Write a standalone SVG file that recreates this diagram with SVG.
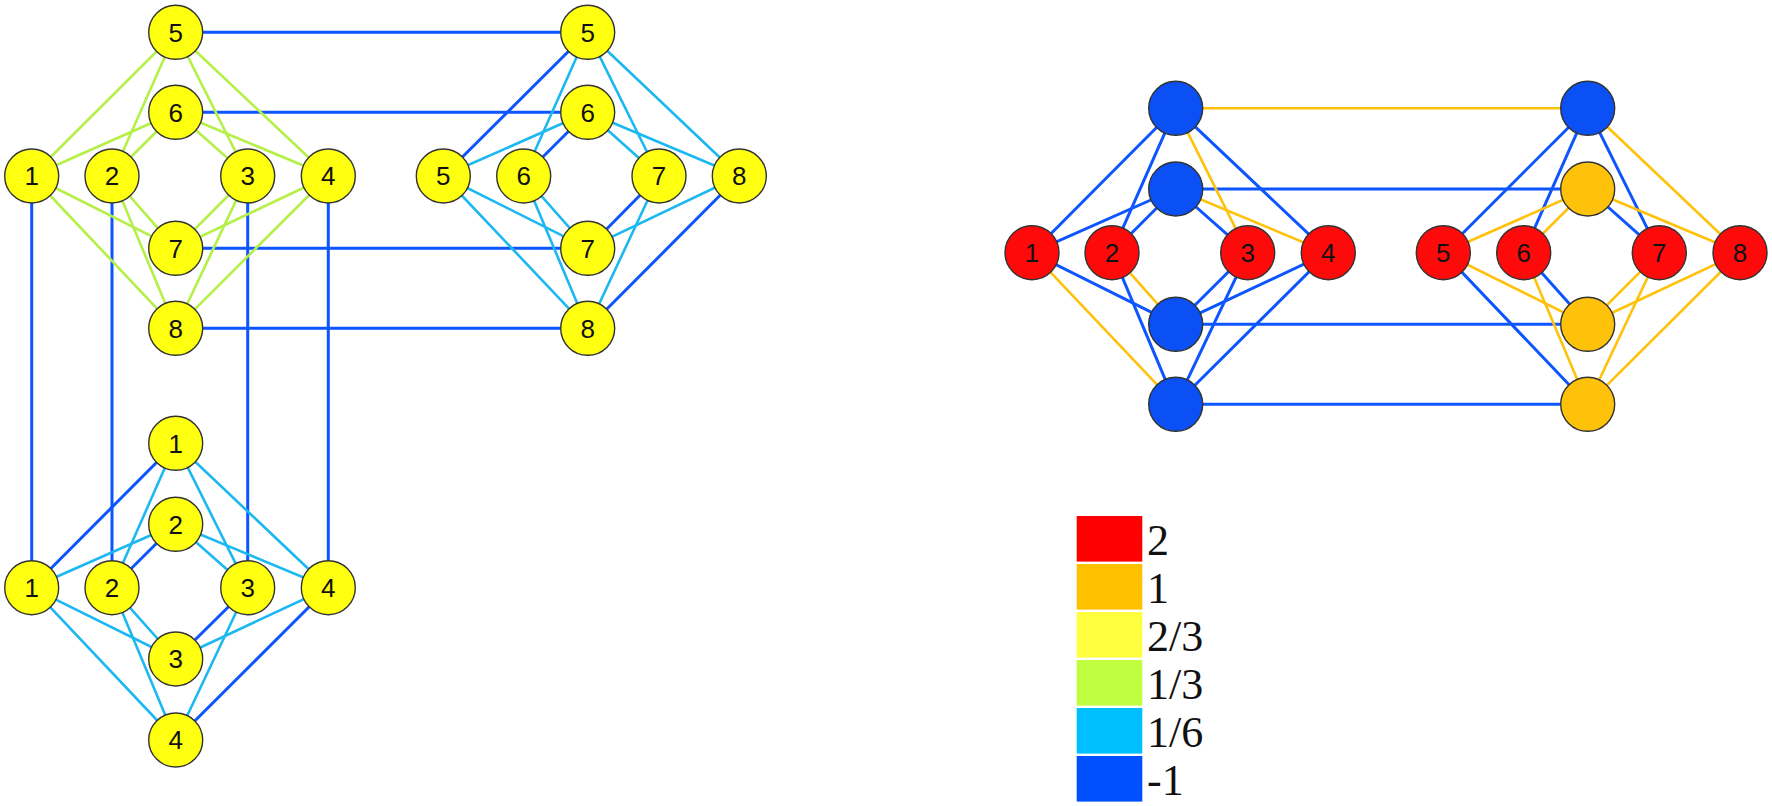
<svg xmlns="http://www.w3.org/2000/svg" width="1772" height="806" viewBox="0 0 1772 806">
<style>
line{stroke-linecap:round}
.b{stroke:#0D55FF;stroke-width:3}
.c{stroke:#1CB8F2;stroke-width:2.6}
.g{stroke:#B4F046;stroke-width:2.6}
.o{stroke:#FFC20A;stroke-width:2.6}
circle{stroke:#333;stroke-width:1.4}
.ny{fill:#FFFF10}
.nr{fill:#FF0A0A}
.nb{fill:#0A50F5}
.no{fill:#FFC20A}
.t{font-family:"Liberation Sans",Arial,sans-serif;font-size:26px;text-anchor:middle;fill:#111}
.lt{font-family:"Liberation Serif","Times New Roman",serif;font-size:44px;fill:#111}
</style>
<rect width="1772" height="806" fill="#fff"/>
<g id="connectors">
<!-- long blue between left clusters -->
<line class="b" x1="175.7" y1="32.3" x2="587.7" y2="32.3"/>
<line class="b" x1="175.7" y1="112.3" x2="587.7" y2="112.3"/>
<line class="b" x1="175.7" y1="248.3" x2="587.7" y2="248.3"/>
<line class="b" x1="175.7" y1="328.3" x2="587.7" y2="328.3"/>
<line class="b" x1="31.7" y1="176" x2="31.7" y2="587.7"/>
<line class="b" x1="112" y1="176" x2="112" y2="587.7"/>
<line class="b" x1="247.7" y1="176" x2="247.7" y2="587.7"/>
<line class="b" x1="328.3" y1="176" x2="328.3" y2="587.7"/>
<!-- TL cluster green -->
<line class="g" x1="175.7" y1="32.3" x2="31.7" y2="176"/>
<line class="g" x1="175.7" y1="32.3" x2="112" y2="176"/>
<line class="g" x1="175.7" y1="32.3" x2="247.7" y2="176"/>
<line class="g" x1="175.7" y1="32.3" x2="328.3" y2="176"/>
<line class="g" x1="175.7" y1="112.3" x2="31.7" y2="176"/>
<line class="g" x1="175.7" y1="112.3" x2="112" y2="176"/>
<line class="g" x1="175.7" y1="112.3" x2="247.7" y2="176"/>
<line class="g" x1="175.7" y1="112.3" x2="328.3" y2="176"/>
<line class="g" x1="175.7" y1="248.3" x2="31.7" y2="176"/>
<line class="g" x1="175.7" y1="248.3" x2="112" y2="176"/>
<line class="g" x1="175.7" y1="248.3" x2="247.7" y2="176"/>
<line class="g" x1="175.7" y1="248.3" x2="328.3" y2="176"/>
<line class="g" x1="175.7" y1="328.3" x2="31.7" y2="176"/>
<line class="g" x1="175.7" y1="328.3" x2="112" y2="176"/>
<line class="g" x1="175.7" y1="328.3" x2="247.7" y2="176"/>
<line class="g" x1="175.7" y1="328.3" x2="328.3" y2="176"/>
<!-- TR cluster -->
<line class="c" x1="587.7" y1="32.3" x2="523.7" y2="176"/>
<line class="c" x1="587.7" y1="32.3" x2="659" y2="176"/>
<line class="c" x1="587.7" y1="32.3" x2="739.3" y2="176"/>
<line class="c" x1="587.7" y1="112.3" x2="443.3" y2="176"/>
<line class="c" x1="587.7" y1="112.3" x2="659" y2="176"/>
<line class="c" x1="587.7" y1="112.3" x2="739.3" y2="176"/>
<line class="c" x1="587.7" y1="248.3" x2="443.3" y2="176"/>
<line class="c" x1="587.7" y1="248.3" x2="523.7" y2="176"/>
<line class="c" x1="587.7" y1="248.3" x2="739.3" y2="176"/>
<line class="c" x1="587.7" y1="328.3" x2="443.3" y2="176"/>
<line class="c" x1="587.7" y1="328.3" x2="523.7" y2="176"/>
<line class="c" x1="587.7" y1="328.3" x2="659" y2="176"/>
<line class="b" x1="587.7" y1="32.3" x2="443.3" y2="176"/>
<line class="b" x1="587.7" y1="112.3" x2="523.7" y2="176"/>
<line class="b" x1="587.7" y1="248.3" x2="659" y2="176"/>
<line class="b" x1="587.7" y1="328.3" x2="739.3" y2="176"/>
<!-- bottom cluster -->
<line class="c" x1="175.7" y1="443.3" x2="112" y2="587.7"/>
<line class="c" x1="175.7" y1="443.3" x2="247.7" y2="587.7"/>
<line class="c" x1="175.7" y1="443.3" x2="328.3" y2="587.7"/>
<line class="c" x1="175.7" y1="524.3" x2="31.7" y2="587.7"/>
<line class="c" x1="175.7" y1="524.3" x2="247.7" y2="587.7"/>
<line class="c" x1="175.7" y1="524.3" x2="328.3" y2="587.7"/>
<line class="c" x1="175.7" y1="659" x2="31.7" y2="587.7"/>
<line class="c" x1="175.7" y1="659" x2="112" y2="587.7"/>
<line class="c" x1="175.7" y1="659" x2="328.3" y2="587.7"/>
<line class="c" x1="175.7" y1="740" x2="31.7" y2="587.7"/>
<line class="c" x1="175.7" y1="740" x2="112" y2="587.7"/>
<line class="c" x1="175.7" y1="740" x2="247.7" y2="587.7"/>
<line class="b" x1="175.7" y1="443.3" x2="31.7" y2="587.7"/>
<line class="b" x1="175.7" y1="524.3" x2="112" y2="587.7"/>
<line class="b" x1="175.7" y1="659" x2="247.7" y2="587.7"/>
<line class="b" x1="175.7" y1="740" x2="328.3" y2="587.7"/>
<!-- right diagram horizontals -->
<line class="o" x1="1175.7" y1="108.3" x2="1587.7" y2="108.3"/>
<line class="b" x1="1175.7" y1="189" x2="1587.7" y2="189"/>
<line class="b" x1="1175.7" y1="324.3" x2="1587.7" y2="324.3"/>
<line class="b" x1="1175.7" y1="404.3" x2="1587.7" y2="404.3"/>
<!-- right diagram left cluster -->
<line class="b" x1="1175.7" y1="108.3" x2="1032" y2="252.7"/>
<line class="b" x1="1175.7" y1="108.3" x2="1112" y2="252.7"/>
<line class="o" x1="1175.7" y1="108.3" x2="1247.7" y2="252.7"/>
<line class="b" x1="1175.7" y1="108.3" x2="1328.3" y2="252.7"/>
<line class="b" x1="1175.7" y1="189" x2="1032" y2="252.7"/>
<line class="b" x1="1175.7" y1="189" x2="1112" y2="252.7"/>
<line class="b" x1="1175.7" y1="189" x2="1247.7" y2="252.7"/>
<line class="o" x1="1175.7" y1="189" x2="1328.3" y2="252.7"/>
<line class="b" x1="1175.7" y1="324.3" x2="1032" y2="252.7"/>
<line class="o" x1="1175.7" y1="324.3" x2="1112" y2="252.7"/>
<line class="b" x1="1175.7" y1="324.3" x2="1247.7" y2="252.7"/>
<line class="b" x1="1175.7" y1="324.3" x2="1328.3" y2="252.7"/>
<line class="o" x1="1175.7" y1="404.3" x2="1032" y2="252.7"/>
<line class="b" x1="1175.7" y1="404.3" x2="1112" y2="252.7"/>
<line class="b" x1="1175.7" y1="404.3" x2="1247.7" y2="252.7"/>
<line class="b" x1="1175.7" y1="404.3" x2="1328.3" y2="252.7"/>
<!-- right diagram right cluster -->
<line class="b" x1="1587.7" y1="108.3" x2="1443.3" y2="252.7"/>
<line class="b" x1="1587.7" y1="108.3" x2="1523.7" y2="252.7"/>
<line class="b" x1="1587.7" y1="108.3" x2="1659.3" y2="252.7"/>
<line class="o" x1="1587.7" y1="108.3" x2="1740" y2="252.7"/>
<line class="o" x1="1587.7" y1="189" x2="1443.3" y2="252.7"/>
<line class="o" x1="1587.7" y1="189" x2="1523.7" y2="252.7"/>
<line class="b" x1="1587.7" y1="189" x2="1659.3" y2="252.7"/>
<line class="o" x1="1587.7" y1="189" x2="1740" y2="252.7"/>
<line class="o" x1="1587.7" y1="324.3" x2="1443.3" y2="252.7"/>
<line class="b" x1="1587.7" y1="324.3" x2="1523.7" y2="252.7"/>
<line class="o" x1="1587.7" y1="324.3" x2="1659.3" y2="252.7"/>
<line class="o" x1="1587.7" y1="324.3" x2="1740" y2="252.7"/>
<line class="b" x1="1587.7" y1="404.3" x2="1443.3" y2="252.7"/>
<line class="o" x1="1587.7" y1="404.3" x2="1523.7" y2="252.7"/>
<line class="o" x1="1587.7" y1="404.3" x2="1659.3" y2="252.7"/>
<line class="o" x1="1587.7" y1="404.3" x2="1740" y2="252.7"/>
</g>
<!-- top-left cluster nodes -->
<g id="tl5"><circle class="ny" cx="175.7" cy="32.3" r="27"/><text class="t" x="175.7" y="41.5">5</text></g>
<g id="tl6"><circle class="ny" cx="175.7" cy="112.3" r="27"/><text class="t" x="175.7" y="121.5">6</text></g>
<g id="tl1"><circle class="ny" cx="31.7" cy="176" r="27"/><text class="t" x="31.7" y="185.2">1</text></g>
<g id="tl2"><circle class="ny" cx="112" cy="176" r="27"/><text class="t" x="112" y="185.2">2</text></g>
<g id="tl3"><circle class="ny" cx="247.7" cy="176" r="27"/><text class="t" x="247.7" y="185.2">3</text></g>
<g id="tl4"><circle class="ny" cx="328.3" cy="176" r="27"/><text class="t" x="328.3" y="185.2">4</text></g>
<g id="tl7"><circle class="ny" cx="175.7" cy="248.3" r="27"/><text class="t" x="175.7" y="257.5">7</text></g>
<g id="tl8"><circle class="ny" cx="175.7" cy="328.3" r="27"/><text class="t" x="175.7" y="337.5">8</text></g>
<!-- top-right cluster nodes -->
<g id="tr5t"><circle class="ny" cx="587.7" cy="32.3" r="27"/><text class="t" x="587.7" y="41.5">5</text></g>
<g id="tr6t"><circle class="ny" cx="587.7" cy="112.3" r="27"/><text class="t" x="587.7" y="121.5">6</text></g>
<g id="tr5"><circle class="ny" cx="443.3" cy="176" r="27"/><text class="t" x="443.3" y="185.2">5</text></g>
<g id="tr6"><circle class="ny" cx="523.7" cy="176" r="27"/><text class="t" x="523.7" y="185.2">6</text></g>
<g id="tr7"><circle class="ny" cx="659" cy="176" r="27"/><text class="t" x="659" y="185.2">7</text></g>
<g id="tr8"><circle class="ny" cx="739.3" cy="176" r="27"/><text class="t" x="739.3" y="185.2">8</text></g>
<g id="tr7b"><circle class="ny" cx="587.7" cy="248.3" r="27"/><text class="t" x="587.7" y="257.5">7</text></g>
<g id="tr8b"><circle class="ny" cx="587.7" cy="328.3" r="27"/><text class="t" x="587.7" y="337.5">8</text></g>
<!-- bottom cluster nodes -->
<g id="bt1"><circle class="ny" cx="175.7" cy="443.3" r="27"/><text class="t" x="175.7" y="452.5">1</text></g>
<g id="bt2"><circle class="ny" cx="175.7" cy="524.3" r="27"/><text class="t" x="175.7" y="533.5">2</text></g>
<g id="b1"><circle class="ny" cx="31.7" cy="587.7" r="27"/><text class="t" x="31.7" y="596.9">1</text></g>
<g id="b2"><circle class="ny" cx="112" cy="587.7" r="27"/><text class="t" x="112" y="596.9">2</text></g>
<g id="b3"><circle class="ny" cx="247.7" cy="587.7" r="27"/><text class="t" x="247.7" y="596.9">3</text></g>
<g id="b4"><circle class="ny" cx="328.3" cy="587.7" r="27"/><text class="t" x="328.3" y="596.9">4</text></g>
<g id="bb3"><circle class="ny" cx="175.7" cy="659" r="27"/><text class="t" x="175.7" y="668.2">3</text></g>
<g id="bb4"><circle class="ny" cx="175.7" cy="740" r="27"/><text class="t" x="175.7" y="749.2">4</text></g>
<!-- right diagram nodes -->
<g id="rA"><circle class="nb" cx="1175.7" cy="108.3" r="27"/></g>
<g id="rB"><circle class="nb" cx="1175.7" cy="189" r="27"/></g>
<g id="r1"><circle class="nr" cx="1032" cy="252.7" r="27"/><text class="t" x="1032" y="261.9">1</text></g>
<g id="r2"><circle class="nr" cx="1112" cy="252.7" r="27"/><text class="t" x="1112" y="261.9">2</text></g>
<g id="r3"><circle class="nr" cx="1247.7" cy="252.7" r="27"/><text class="t" x="1247.7" y="261.9">3</text></g>
<g id="r4"><circle class="nr" cx="1328.3" cy="252.7" r="27"/><text class="t" x="1328.3" y="261.9">4</text></g>
<g id="rC"><circle class="nb" cx="1175.7" cy="324.3" r="27"/></g>
<g id="rD"><circle class="nb" cx="1175.7" cy="404.3" r="27"/></g>
<g id="rE"><circle class="nb" cx="1587.7" cy="108.3" r="27"/></g>
<g id="rF"><circle class="no" cx="1587.7" cy="189" r="27"/></g>
<g id="r5"><circle class="nr" cx="1443.3" cy="252.7" r="27"/><text class="t" x="1443.3" y="261.9">5</text></g>
<g id="r6"><circle class="nr" cx="1523.7" cy="252.7" r="27"/><text class="t" x="1523.7" y="261.9">6</text></g>
<g id="r7"><circle class="nr" cx="1659.3" cy="252.7" r="27"/><text class="t" x="1659.3" y="261.9">7</text></g>
<g id="r8"><circle class="nr" cx="1740" cy="252.7" r="27"/><text class="t" x="1740" y="261.9">8</text></g>
<g id="rG"><circle class="no" cx="1587.7" cy="324.3" r="27"/></g>
<g id="rH"><circle class="no" cx="1587.7" cy="404.3" r="27"/></g>
<!-- legend -->
<g id="legend">
<rect x="1076.7" y="516" width="65.6" height="45.6" fill="#FF0000"/>
<rect x="1076.7" y="564" width="65.6" height="45.6" fill="#FFC000"/>
<rect x="1076.7" y="612" width="65.6" height="45.6" fill="#FFFF40"/>
<rect x="1076.7" y="660" width="65.6" height="45.6" fill="#BFFF40"/>
<rect x="1076.7" y="708" width="65.6" height="45.6" fill="#00BFFF"/>
<rect x="1076.7" y="756" width="65.6" height="45.6" fill="#0050FF"/>
<text class="lt" x="1147" y="555">2</text>
<text class="lt" x="1147" y="603">1</text>
<text class="lt" x="1147" y="651">2/3</text>
<text class="lt" x="1147" y="699">1/3</text>
<text class="lt" x="1147" y="747">1/6</text>
<text class="lt" x="1147" y="795">-1</text>
</g>
</svg>
